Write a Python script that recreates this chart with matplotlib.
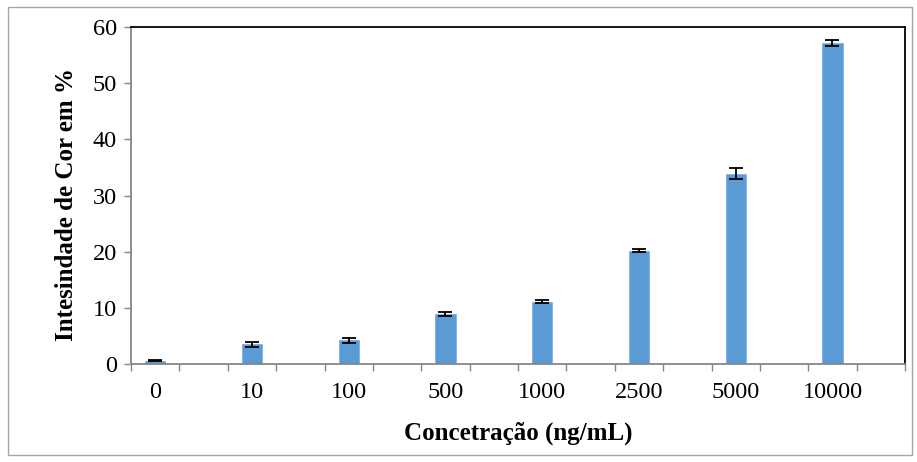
import numpy as np
import matplotlib.pyplot as plt
from matplotlib.patches import Rectangle

# concentration categories and measured colour intensity (%)
concentrations = ['0', '10', '100', '500', '1000', '2500', '5000', '10000']
intensity = [0.6, 3.5, 4.2, 8.9, 11.1, 20.2, 33.9, 57.2]
erro = [0.15, 0.5, 0.4, 0.3, 0.3, 0.25, 1.0, 0.5]

plt.rcParams['font.family'] = ['Liberation Serif', 'DejaVu Serif']

fig = plt.figure(figsize=(9.17, 4.62), dpi=100)
ax = fig.add_axes([131/917, 1 - 364/462, (905 - 131)/917, (364 - 27)/462])

# every second category is empty in the original sheet
x = np.arange(len(concentrations)) * 2
ax.bar(x, intensity, width=0.42, color='#5B9BD5', edgecolor='#7FB1E0', linewidth=0.6,
       yerr=erro, error_kw=dict(ecolor='black', elinewidth=1.3, capsize=5, capthick=1.3),
       zorder=2)

ax.set_xlim(-0.5, 2 * len(concentrations) - 0.5)
ax.set_ylim(0, 60)
ax.set_yticks(np.arange(0, 61, 10))
ax.set_xticks(x)
ax.set_xticklabels(concentrations)
ax.set_xticks(np.arange(-0.5, 2 * len(concentrations)), minor=True)

ax.tick_params(axis='x', which='major', length=0, pad=13, labelsize=17.5)
ax.tick_params(axis='x', which='minor', length=5, width=1, color='#868686', direction='out')
ax.tick_params(axis='y', length=5, width=1, color='#868686', direction='out', pad=5, labelsize=17.5)

for s in ['left', 'bottom']:
    ax.spines[s].set_color('#868686')
    ax.spines[s].set_linewidth(1.3)
for s in ['top', 'right']:
    ax.spines[s].set_color('black')
    ax.spines[s].set_linewidth(1.3)

ax.set_xlabel('Concetração (ng/mL)', fontsize=18, fontweight='bold', labelpad=13)
ax.set_ylabel('Intesindade de Cor em %', fontsize=18, fontweight='bold')
ax.yaxis.set_label_coords(-0.069, 0.472)

# outer chart border
fig.patches.append(Rectangle((8/917, 1 - 455/462), (912 - 8)/917, (455 - 7)/462,
                             transform=fig.transFigure, fill=False,
                             edgecolor='#A6A6A6', linewidth=1))

fig.savefig('out.png', dpi=100)
